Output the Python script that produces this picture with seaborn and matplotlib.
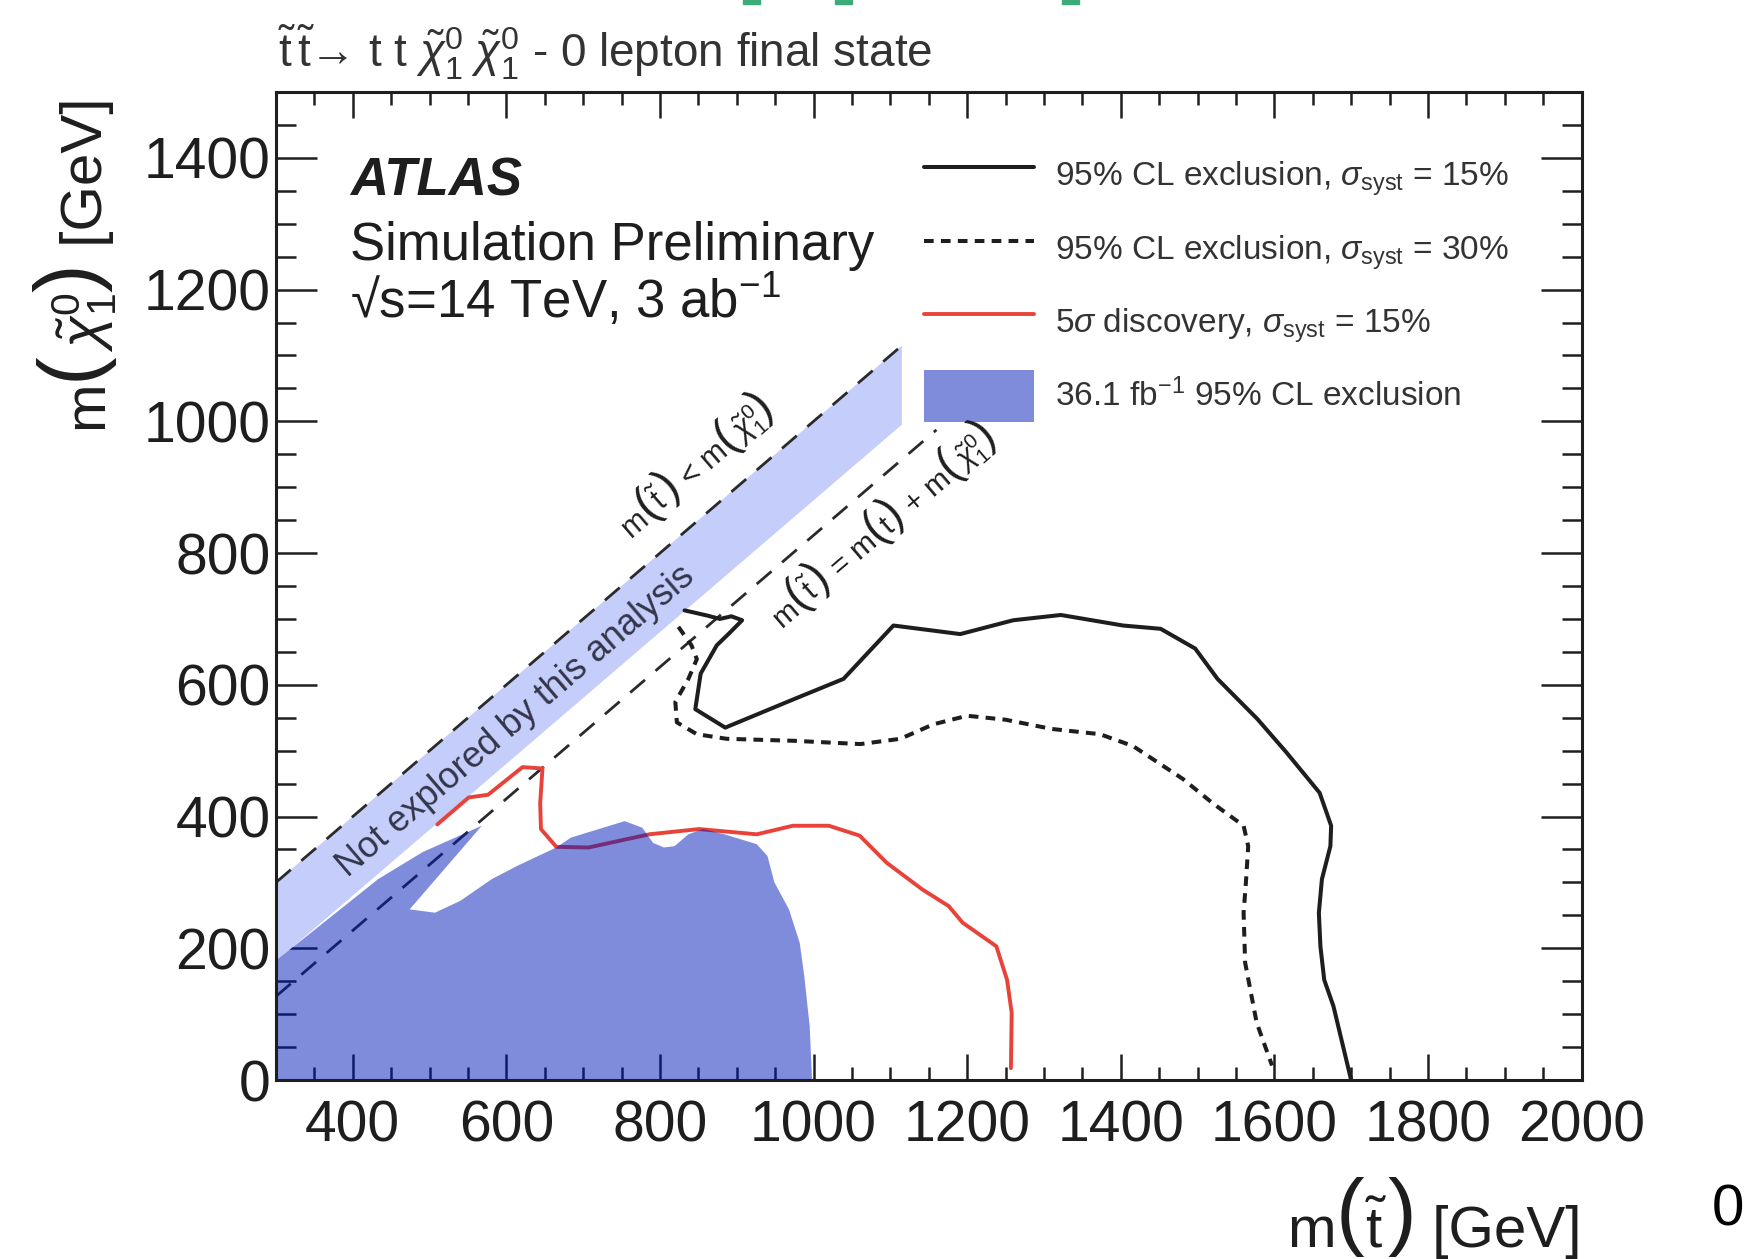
import numpy as np
import pandas as pd
import matplotlib
matplotlib.use("Agg")
import matplotlib.pyplot as plt
from matplotlib.patches import Patch, Rectangle
from matplotlib.lines import Line2D
from matplotlib.ticker import MultipleLocator
from matplotlib.transforms import IdentityTransform
import seaborn as sns

# ---------------------------------------------------------------- data
# 95% CL exclusion contour, sigma_syst = 15%  (m_stop, m_chi)
excl15_x = [832, 862, 878, 893, 907, 890, 874, 853, 846, 885, 974, 1039, 1104, 1191,
            1260, 1322, 1403, 1452, 1497, 1526, 1578, 1616, 1659, 1674, 1673, 1662,
            1658, 1660, 1665, 1677, 1700]
excl15_y = [713, 705, 700, 704, 698, 678, 660, 617, 563, 535, 578, 609, 690, 677,
            698, 706, 690, 685, 655, 609, 548, 497, 436, 386, 355, 305,
            254, 203, 152, 112, 0]

# 95% CL exclusion contour, sigma_syst = 30%
excl30_x = [824, 841, 848, 837, 820, 822, 848, 887, 974, 1061, 1113, 1156, 1200,
            1250, 1310, 1373, 1416, 1481, 1520, 1560, 1566, 1563, 1560, 1562, 1577, 1597]
excl30_y = [688, 660, 639, 609, 574, 543, 525, 518, 515, 510, 518, 540, 553,
            547, 533, 525, 507, 457, 420, 386, 355, 300, 254, 178, 87, 22]

# 5 sigma discovery contour, sigma_syst = 15%
disc_x = [510, 551, 576, 621, 647, 644, 645, 665, 707, 786, 851, 926, 973, 1020,
          1060, 1095, 1142, 1176, 1194, 1238, 1252, 1258, 1257]
disc_y = [388, 429, 433, 475, 473, 420, 381, 354, 353, 373, 381, 373, 386, 386,
          371, 330, 289, 264, 239, 203, 152, 102, 18]

# 36.1 fb^-1 observed 95% CL excluded region
run2_x = [300, 302, 433, 491, 568, 474, 507, 540, 581, 614, 665, 684, 726, 754, 777,
          791, 805, 819, 837, 856, 884, 926, 940, 949, 968, 982, 988, 995, 998]
run2_y = [0, 183, 305, 346, 386, 259, 254, 272, 305, 325, 353, 368, 383, 393, 383,
          360, 353, 355, 373, 381, 373, 358, 340, 300, 259, 208, 157, 81, 0]

# region not explored by the analysis
band_x = [300, 1115, 1115, 300]
band_y = [300, 1115, 995, 180]

# kinematic boundaries: m(stop) = m(chi) and m(stop) = m(t) + m(chi)
diag_x = [300, 1115]
diag_y = [300, 1115]
kin_x = [300, 1160]
kin_y = [127, 987]

x_ticks = [400, 600, 800, 1000, 1200, 1400, 1600, 1800, 2000]
y_ticks = [0, 200, 400, 600, 800, 1000, 1200, 1400]

legend_labels = [
    r"95% CL exclusion, $\sigma_{\mathrm{syst}}$ = 15%",
    r"95% CL exclusion, $\sigma_{\mathrm{syst}}$ = 30%",
    r"5$\sigma$ discovery, $\sigma_{\mathrm{syst}}$ = 15%",
    r"36.1 fb$^{-1}$ 95% CL exclusion",
]

# ---------------------------------------------------------------- style
sns.set_theme(style="ticks")
plt.rcParams["font.family"] = ["Liberation Sans", "DejaVu Sans"]
plt.rcParams["mathtext.fontset"] = "custom"
plt.rcParams["mathtext.rm"] = "Liberation Sans"
plt.rcParams["mathtext.it"] = "Liberation Sans:italic"
plt.rcParams["mathtext.bf"] = "Liberation Sans:bold"
plt.rcParams["mathtext.sf"] = "Liberation Sans"

INK = "#1e1e1e"
RED = "#e8433a"
FILL = (0.0, 25 / 255, 185 / 255)
BAND = "#c5cefa"

W, H = 1746, 1259
fig = plt.figure(figsize=(W / 100, H / 100), dpi=100)
ax_l, ax_r, ax_t, ax_b = 276, 1581.5, 92, 1080
ax = fig.add_axes([ax_l / W, 1 - ax_b / H, (ax_r - ax_l) / W, (ax_b - ax_t) / H])
ax.set_xlim(300, 2000)
ax.set_ylim(0, 1500)
renderer = fig.canvas.get_renderer()


def rich_text(x0, y0, pieces, angle=0.0, align="left", color=INK, zorder=6):
    """Lay out text pieces of different sizes along a baseline (display pixels).

    pieces: list of (string, fontsize, rise_px)."""
    widths = []
    for s, size, _ in pieces:
        tmp = fig.text(0, 0, s, fontsize=size, transform=IdentityTransform())
        widths.append(tmp.get_window_extent(renderer).width)
        tmp.remove()
    total = sum(widths)
    start = {"left": 0.0, "center": -total / 2, "right": -total}[align]
    c, s_ = np.cos(np.radians(angle)), np.sin(np.radians(angle))
    d = start
    for (s, size, rise), w in zip(pieces, widths):
        px = x0 + d * c - rise * s_
        py = y0 + d * s_ + rise * c
        fig.text(px, py, s, fontsize=size, rotation=angle, rotation_mode="anchor",
                 ha="left", va="baseline", transform=IdentityTransform(),
                 color=color, zorder=zorder)
        d += w


# ---------------------------------------------------------------- marks
ax.fill(band_x, band_y, color=BAND, lw=0, zorder=1)

sns.lineplot(data=pd.DataFrame({"x": diag_x, "y": diag_y}), x="x", y="y", sort=False,
             estimator=None, ax=ax, color="#2a2a2a", lw=2.0, zorder=2)
ax.lines[-1].set_dashes([7, 5])
sns.lineplot(data=pd.DataFrame({"x": kin_x, "y": kin_y}), x="x", y="y", sort=False,
             estimator=None, ax=ax, color="#2a2a2a", lw=2.0, zorder=2)
ax.lines[-1].set_dashes([7, 5])

sns.lineplot(data=pd.DataFrame({"x": disc_x, "y": disc_y}), x="x", y="y", sort=False,
             estimator=None, ax=ax, color=RED, lw=2.8, zorder=3)

ax.fill(run2_x, run2_y, color=FILL, alpha=0.5, lw=0, zorder=4)

sns.lineplot(data=pd.DataFrame({"x": excl15_x, "y": excl15_y}), x="x", y="y", sort=False,
             estimator=None, ax=ax, color=INK, lw=2.9, zorder=5)
sns.lineplot(data=pd.DataFrame({"x": excl30_x, "y": excl30_y}), x="x", y="y", sort=False,
             estimator=None, ax=ax, color=INK, lw=2.9, zorder=5)
ax.lines[-1].set_dashes([2.4, 1.8])

# ---------------------------------------------------------------- axes
ax.set_xlabel("")
ax.set_ylabel("")
ax.set_xticks(x_ticks)
ax.set_yticks(y_ticks)
ax.xaxis.set_minor_locator(MultipleLocator(50))
ax.yaxis.set_minor_locator(MultipleLocator(50))
ax.tick_params(which="both", direction="in", top=True, right=True, width=1.8,
               color=INK, labelcolor=INK, labelsize=41)
ax.tick_params(axis="x", which="major", length=19, pad=14)
ax.tick_params(axis="x", which="minor", length=9.5)
ax.tick_params(axis="y", which="major", length=29.5, pad=4)
ax.tick_params(axis="y", which="minor", length=14.5)
for sp in ax.spines.values():
    sp.set_linewidth(2.2)
    sp.set_color(INK)
    sp.set_zorder(10)

# ---------------------------------------------------------------- annotations
ax.text(612, 545, "Not explored by this analysis", rotation=45,
        transform_rotates_text=True, rotation_mode="anchor", ha="center",
        va="center", fontsize=26, color="#33364a", zorder=6)

p0 = ax.transData.transform((300, 300))
p1 = ax.transData.transform((1100, 1100))
diag_angle = np.degrees(np.arctan2(p1[1] - p0[1], p1[0] - p0[0]))
perp = np.array([-np.sin(np.radians(diag_angle)), np.cos(np.radians(diag_angle))])

chi = r"$\tilde{\chi}^{0}_{1}$"
stop = r"$\tilde{\mathrm{t}}$"
LP, RP = "(", ")"

lab1 = [("m", 22, 0), (LP, 34, 3), (stop, 22, 0), (RP, 34, 3), (" < m", 22, 0),
        (LP, 34, 3), (chi, 22, 0), (RP, 34, 3)]
c1 = ax.transData.transform((850, 929)) - perp * 9
rich_text(c1[0], c1[1], lab1, angle=diag_angle, align="center")

lab2 = [("m", 21.5, 0), (LP, 33, 3), (stop, 21.5, 0), (RP, 33, 3), (" = m", 21.5, 0),
        (LP, 33, 3), ("t", 21.5, 0), (RP, 33, 3), (" + m", 21.5, 0),
        (LP, 33, 3), (chi, 21.5, 0), (RP, 33, 3)]
c2 = ax.transData.transform((1093, 839)) - perp * 9
rich_text(c2[0], c2[1], lab2, angle=diag_angle, align="center")

handles = [
    Line2D([], [], color=INK, lw=2.9),
    Line2D([], [], color=INK, lw=2.9, dashes=[2.4, 1.8]),
    Line2D([], [], color=RED, lw=2.8),
    Patch(facecolor=FILL, alpha=0.5, lw=0),
]
ax.legend(handles, legend_labels, loc="upper left",
          bbox_to_anchor=(924 / W, 1 - 149 / H), bbox_transform=fig.transFigure,
          frameon=False, fontsize=24, handlelength=3.3, handleheight=2.02,
          handletextpad=0.62, labelspacing=0.65, borderpad=0, borderaxespad=0,
          labelcolor="#333333")

fig.text(350 / W, 1 - 195 / H, "ATLAS", fontsize=38, weight="bold", style="italic",
         color=INK, va="baseline")
fig.text(350 / W, 1 - 260 / H, "Simulation Preliminary", fontsize=38, color=INK,
         va="baseline")
fig.text(350 / W, 1 - 318 / H, "√s=14 TeV, 3 ab$^{-1}$", fontsize=38, color=INK,
         va="baseline")

fig.text(278 / W, 1 - 67 / H,
         r"$\tilde{\mathrm{t}}\,\tilde{\mathrm{t}}$→ t t "
         r"$\tilde{\chi}^{0}_{1}\;\tilde{\chi}^{0}_{1}$ - 0 lepton final state",
         fontsize=33, color="#333333", va="baseline")

# axis titles with tall brackets
rich_text(102, H - 429, [("m", 42, 0), (LP, 62, 8), (chi, 42, 0), (RP, 62, 8),
                         (" [GeV]", 42, 0)], angle=90, align="left")
rich_text(ax_r, H - 1247, [("m", 42, 0), (LP, 62, 8), (stop, 42, 0), (RP, 62, 8),
                           (" [GeV]", 42, 0)], angle=0, align="right")

fig.text(1712 / W, 1 - 1225 / H, "0", fontsize=42, color="black", va="baseline")

for x0 in (743, 835, 1062):
    fig.patches.append(Rectangle((x0 / W, 1 - 4 / H), 17 / W, 4 / H,
                                 transform=fig.transFigure, color="#3daa7a"))

fig.savefig("out.png", dpi=100)
